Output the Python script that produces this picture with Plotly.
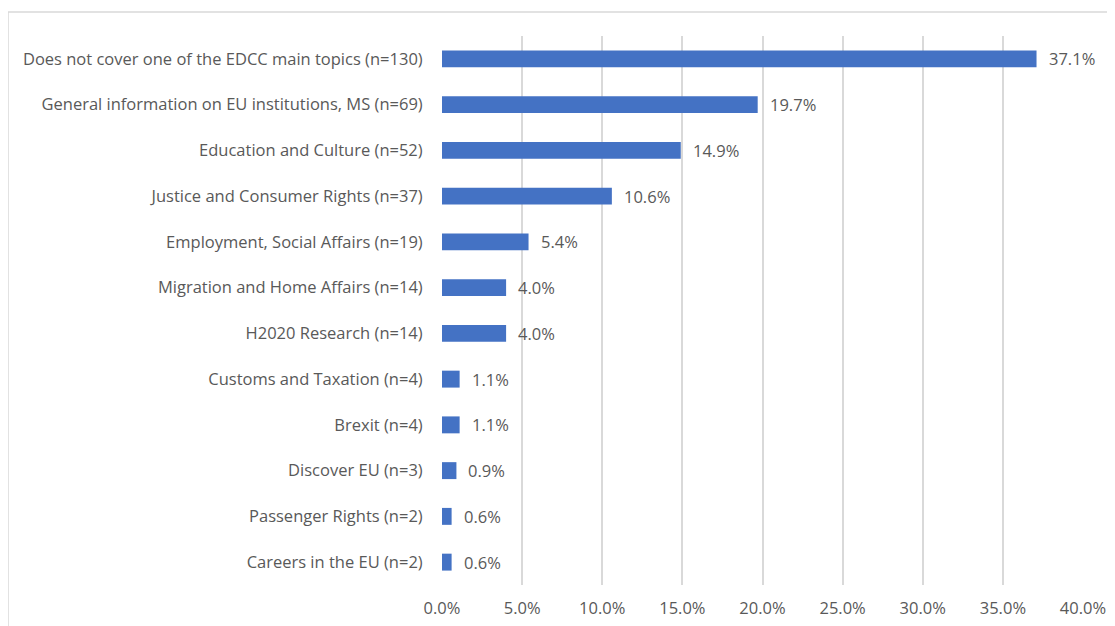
import plotly.graph_objects as go

categories = [
    "Does not cover one of the EDCC main topics (n=130)",
    "General information on EU institutions, MS (n=69)",
    "Education and Culture (n=52)",
    "Justice and Consumer Rights (n=37)",
    "Employment, Social Affairs (n=19)",
    "Migration and Home Affairs (n=14)",
    "H2020 Research (n=14)",
    "Customs and Taxation (n=4)",
    "Brexit (n=4)",
    "Discover EU (n=3)",
    "Passenger Rights (n=2)",
    "Careers in the EU (n=2)",
]
values = [37.1, 19.7, 14.9, 10.6, 5.4, 4.0, 4.0, 1.1, 1.1, 0.9, 0.6, 0.6]
tick_vals = [0, 5, 10, 15, 20, 25, 30, 35, 40]
tick_text = ["0.0%", "5.0%", "10.0%", "15.0%", "20.0%", "25.0%", "30.0%", "35.0%", "40.0%"]

# page body has an 8px margin, so the figure sits at (8, 8)
W, H = 1107, 618
ml, mr, mt, mb = 434, 32, 28, 41
FONT = "Open Sans, Liberation Sans, Arial, sans-serif"
GREY = "#595959"
FS = 16.5

fig = go.Figure(go.Bar(
    x=values, y=categories, orientation="h",
    marker=dict(color="#4472C4", line=dict(width=0)),
    hoverinfo="x+y",
))

for c, v in zip(categories, values):
    fig.add_annotation(x=v, y=c, xref="x", yref="y", text=f"{v:.1f}%",
                       showarrow=False, xanchor="left", yanchor="middle",
                       xshift=10, font=dict(family=FONT, size=FS, color=GREY))

pw = W - ml - mr
ph = H - mt - mb
def px(xp):
    return (xp - ml) / pw
def py(yp):
    return 1 - (yp - mt) / ph

fig.update_layout(
    width=W, height=H,
    margin=dict(l=ml, r=mr, t=mt, b=mb, autoexpand=False),
    paper_bgcolor="white", plot_bgcolor="white",
    font=dict(family=FONT, size=FS, color=GREY),
    bargap=0.63,
    showlegend=False,
    xaxis=dict(range=[0, 40], tickvals=tick_vals, ticktext=tick_text,
               automargin=False,
               showgrid=True, gridcolor="#D9D9D9", gridwidth=1.5,
               zeroline=False, showline=False,
               ticks="outside", ticklen=8, tickcolor="rgba(0,0,0,0)",
               tickfont=dict(family=FONT, size=FS, color=GREY)),
    yaxis=dict(categoryorder="array", categoryarray=categories,
               range=[len(categories) - 0.5, -0.5], autorange=False,
               automargin=False,
               showgrid=False, zeroline=False,
               ticks="outside", ticklen=15, tickcolor="rgba(0,0,0,0)",
               tickfont=dict(family=FONT, size=FS, color=GREY)),
    shapes=[
        dict(type="line", xref="paper", yref="paper",
             x0=px(0), x1=px(W + 5), y0=py(4), y1=py(4),
             line=dict(color="#D9D9D9", width=1.5)),
        dict(type="line", xref="paper", yref="paper",
             x0=px(0), x1=px(0), y0=py(4), y1=py(H + 5),
             line=dict(color="#D9D9D9", width=1.5)),
    ],
)

fig.write_html("out.html")
